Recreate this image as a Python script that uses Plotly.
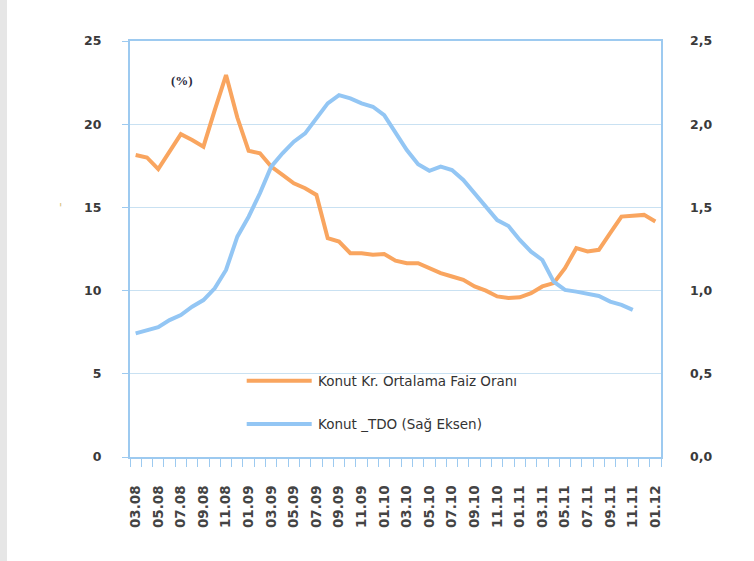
import plotly.graph_objects as go

months = ["03.08","04.08","05.08","06.08","07.08","08.08","09.08","10.08","11.08","12.08",
          "01.09","02.09","03.09","04.09","05.09","06.09","07.09","08.09","09.09","10.09","11.09","12.09",
          "01.10","02.10","03.10","04.10","05.10","06.10","07.10","08.10","09.10","10.10","11.10","12.10",
          "01.11","02.11","03.11","04.11","05.11","06.11","07.11","08.11","09.11","10.11","11.11","12.11",
          "01.12"]

faiz = [18.15, 18.0, 17.3, 18.4, 19.4, 19.05, 18.65, 20.85, 22.95, 20.4,
        18.4, 18.25, 17.45, 16.95, 16.45, 16.15, 15.75, 13.15, 12.95, 12.25, 12.25, 12.15,
        12.2, 11.8, 11.65, 11.65, 11.35, 11.05, 10.85, 10.65, 10.25, 10.0, 9.65, 9.55,
        9.6, 9.85, 10.25, 10.45, 11.35, 12.55, 12.35, 12.45, 13.45, 14.45, 14.5, 14.55,
        14.15]

tdo = [0.743, 0.76, 0.78, 0.823, 0.853, 0.903, 0.943, 1.014, 1.124, 1.324,
       1.444, 1.585, 1.745, 1.825, 1.895, 1.945, 2.035, 2.125, 2.175, 2.155, 2.125, 2.105,
       2.055, 1.945, 1.845, 1.76, 1.72, 1.745, 1.725, 1.665, 1.585, 1.504, 1.424, 1.388,
       1.304, 1.234, 1.184, 1.054, 1.004, 0.994, 0.984, 0.968, 0.934, 0.914, 0.884, None,
       None]

left_ticks = [0, 5, 10, 15, 20, 25]
right_ticks = [0.0, 0.5, 1.0, 1.5, 2.0, 2.5]
right_labels = ["0,0", "0,5", "1,0", "1,5", "2,0", "2,5"]

name_faiz = "Konut Kr. Ortalama Faiz Oranı"
name_tdo = "Konut _TDO (Sağ Eksen)"

ORANGE = "#F9A55F"
BLUE = "#93C6F4"
FRAME = "#9DCAF0"
GRID = "#C9E1F2"
TXT = "#3A3A3A"
FONT = "DejaVu Sans"

x = list(range(len(months)))

fig = go.Figure()
fig.add_trace(go.Scatter(x=x, y=faiz, mode="lines", name=name_faiz,
                         line=dict(color=ORANGE, width=4), showlegend=False))
fig.add_trace(go.Scatter(x=x, y=tdo, mode="lines", name=name_tdo, yaxis="y2",
                         line=dict(color=BLUE, width=4), showlegend=False))

fig.update_layout(
    width=754, height=561,
    margin=dict(l=130, r=93, t=41, b=104),
    paper_bgcolor="white", plot_bgcolor="white",
    font=dict(family=FONT, color=TXT),
    xaxis=dict(
        range=[-0.5, len(months) - 0.5],
        tickmode="array", tickvals=x[::2], ticktext=months[::2],
        tickangle=-90, ticks="", showgrid=False, zeroline=False,
        tickfont=dict(size=13.5, color="#444444", weight=700),
        ticklabelstandoff=21,
        showline=True, linecolor=FRAME, linewidth=2, mirror=True,
        minor=dict(tickmode="linear", tick0=-0.5, dtick=1, ticks="outside",
                   ticklen=8, tickcolor=FRAME, tickwidth=1, showgrid=False),
    ),
    yaxis=dict(
        range=[0, 25], tickmode="array", tickvals=left_ticks,
        ticktext=[str(v) for v in left_ticks],
        showgrid=True, gridcolor=GRID, gridwidth=1, zeroline=False,
        ticks="outside", ticklen=6, tickcolor=FRAME,
        tickfont=dict(size=12.5, color=TXT, weight=700),
        ticklabelstandoff=18,
        showline=True, linecolor=FRAME, linewidth=2, mirror=True,
    ),
    yaxis2=dict(
        range=[0, 2.5], overlaying="y", side="right",
        tickmode="array", tickvals=right_ticks, ticktext=right_labels,
        showgrid=False, zeroline=False, ticks="",
        tickfont=dict(size=12.5, color=TXT, weight=700),
        ticklabelstandoff=28,
    ),
)

# left gray page strip
fig.add_shape(type="rect", xref="paper", yref="paper", xsizemode="pixel", ysizemode="pixel",
              xanchor=0, yanchor=0, x0=-130, x1=-123, y0=-104, y1=416 + 41,
              fillcolor="#E6E6E6", line=dict(width=0), layer="below")

# "(%)" label
fig.add_annotation(text="(%)", xref="paper", yref="paper", x=(169 - 130) / 531, y=(457 - 71) / 416,
                   showarrow=False, font=dict(family="Liberation Serif", size=13, color="#2A2A40", weight=700))

# faint cut-off axis title mark
fig.add_annotation(text="'", xref="paper", yref="paper", x=(57 - 130) / 531, y=(457 - 208) / 416,
                   showarrow=False, font=dict(size=12, color="#D9C27A"))

# legend drawn manually
leg = [(name_faiz, ORANGE, (457 - 380.7) / 416), (name_tdo, BLUE, (457 - 424) / 416)]
for label, col, yy in leg:
    fig.add_shape(type="line", xref="paper", yref="paper",
                  x0=(246.7 - 130) / 531, x1=(311.7 - 130) / 531, y0=yy, y1=yy,
                  line=dict(color=col, width=4))
    fig.add_annotation(text=label, xref="paper", yref="paper", x=(316 - 130) / 531, y=yy,
                       xanchor="left", yanchor="middle", showarrow=False,
                       font=dict(size=13.5, color="#333333", weight=400))

fig.write_html("out.html", config={"displayModeBar": False},
               post_script="document.body.style.margin='0';")
